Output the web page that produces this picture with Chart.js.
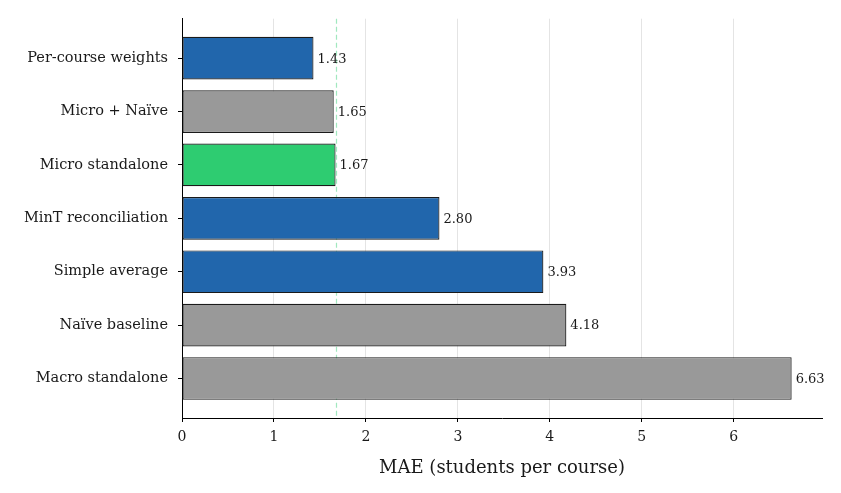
<!DOCTYPE html>
<html>
<head>
<meta charset="utf-8">
<script src="https://cdn.jsdelivr.net/npm/chart.js@4"></script>
<style>
  html, body { margin: 0; padding: 0; background: #fff; }
  #wrap { width: 841px; height: 493px; }
</style>
</head>
<body>
<div id="wrap"><canvas id="chart"></canvas></div>
<script>
// method names, top to bottom
const methods = ['Per-course weights', 'Micro + Naïve', 'Micro standalone', 'MinT reconciliation',
    'Simple average', 'Naïve baseline', 'Macro standalone'];
const maeValues = [1.43, 1.65, 1.67, 2.80, 3.93, 4.18, 6.63];
const barColors = ['#2166ac', '#999999', '#2ecc71', '#2166ac', '#2166ac', '#999999', '#999999'];
const xTicks = [0, 1, 2, 3, 4, 5, 6];
const refLine = 1.67;

const serif = "'DejaVu Serif', serif";

// dashed reference line under the bars
const refLinePlugin = {
    id: 'refLine',
    beforeDatasetsDraw(chart) {
        const ctx = chart.ctx;
        const x = Math.round(chart.scales.x.getPixelForValue(refLine)) + 0.5;
        const area = chart.chartArea;
        ctx.save();
        ctx.strokeStyle = 'rgba(46, 204, 113, 0.45)';
        ctx.lineWidth = 1.2;
        ctx.setLineDash([5, 3]);
        ctx.beginPath();
        ctx.moveTo(x, area.top);
        ctx.lineTo(x, area.bottom);
        ctx.stroke();
        ctx.restore();
    }
};

// value labels at bar ends
const valueLabels = {
    id: 'valueLabels',
    afterDatasetsDraw(chart) {
        const ctx = chart.ctx;
        const meta = chart.getDatasetMeta(0);
        ctx.save();
        ctx.font = '13px ' + serif;
        ctx.fillStyle = '#1a1a1a';
        ctx.textBaseline = 'middle';
        meta.data.forEach((bar, i) => {
            ctx.fillText(maeValues[i].toFixed(2), bar.x + 4, bar.y + 1);
        });
        ctx.restore();
    }
};

new Chart(document.getElementById('chart'), {
    type: 'bar',
    data: {
        datasets: [{
            data: maeValues.map((v, i) => ({ x: v, y: i })),
            backgroundColor: barColors,
            borderColor: '#1a1a1a',
            borderWidth: 1.2,
            borderSkipped: false,
            categoryPercentage: 0.8,
            barPercentage: 1
        }]
    },
    options: {
        indexAxis: 'y',
        responsive: true,
        maintainAspectRatio: false,
        animation: false,
        layout: { padding: { top: 14, right: 19, left: 0, bottom: 14 } },
        plugins: {
            legend: { display: false },
            tooltip: { enabled: false }
        },
        scales: {
            x: {
                type: 'linear',
                min: 0,
                max: 6.96,
                z: 1,
                afterBuildTicks: (scale) => { scale.ticks = xTicks.map(v => ({ value: v })); },
                afterFit: (scale) => { scale.height = 61; },
                grid: { color: 'rgba(180, 180, 180, 0.36)', tickColor: '#000', tickLength: 4 },
                border: { display: true, color: '#000', width: 1 },
                ticks: { color: '#1a1a1a', font: { family: serif, size: 14 }, padding: 7 },
                title: {
                    display: true,
                    text: 'MAE (students per course)',
                    color: '#1a1a1a',
                    font: { family: serif, size: 18 },
                    padding: { top: 2, bottom: 0 }
                }
            },
            y: {
                type: 'linear',
                reverse: true,
                offset: false,
                min: -0.74,
                max: 6.74,
                afterBuildTicks: (scale) => { scale.ticks = methods.map((_, i) => ({ value: i })); },
                afterFit: (scale) => { scale.width = 182; },
                grid: { offset: false, drawOnChartArea: false, tickColor: '#000', tickLength: 4 },
                border: { display: true, color: '#000', width: 1 },
                ticks: {
                    color: '#1a1a1a',
                    font: { family: serif, size: 14.5 },
                    padding: 10,
                    callback: (v) => methods[v]
                }
            }
        }
    },
    plugins: [refLinePlugin, valueLabels]
});
</script>
</body>
</html>
